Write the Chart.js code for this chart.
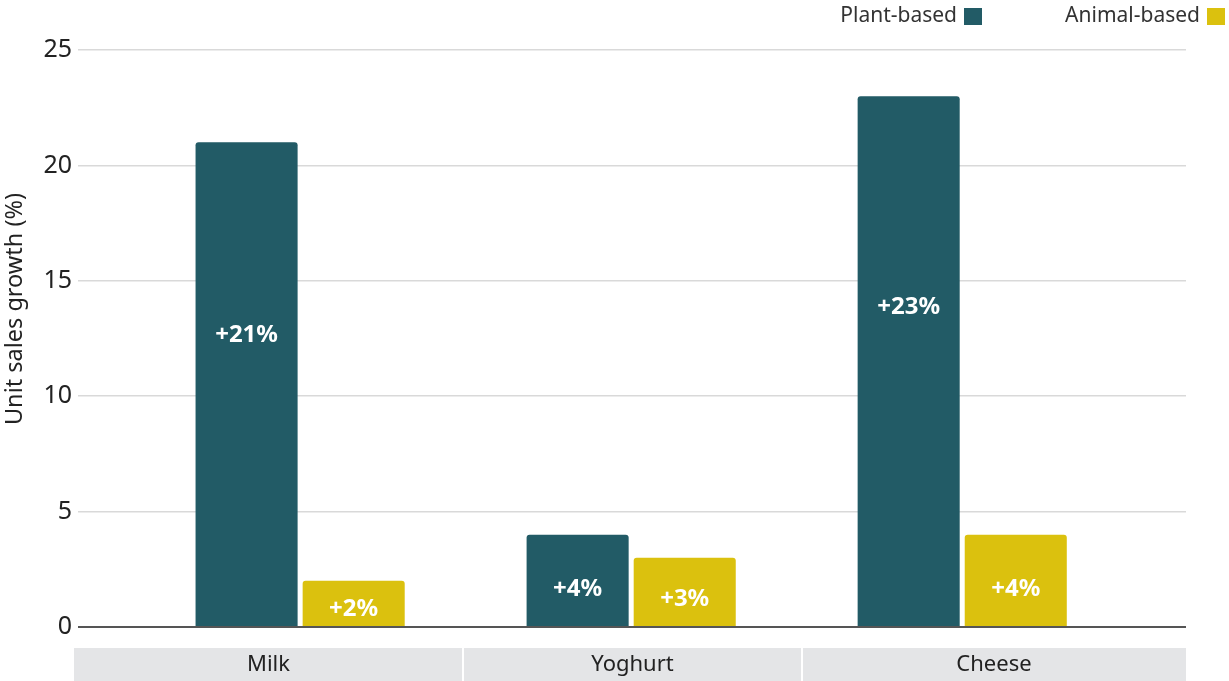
<!DOCTYPE html>
<html>
<head>
<meta charset="utf-8">
<script src="https://cdn.jsdelivr.net/npm/chart.js@4/dist/chart.umd.min.js"></script>
<style>
  html, body { margin: 0; padding: 0; background: #ffffff; }
  #wrap { position: relative; width: 1229px; height: 681px; }
</style>
</head>
<body>
<div id="wrap"><canvas id="c" width="1229" height="681"></canvas></div>
<script>
const categories = ['Milk', 'Yoghurt', 'Cheese'];
const plantBased = [21, 4, 23];
const animalBased = [2, 3, 4];
const plantLabels = ['+21%', '+4%', '+23%'];
const animalLabels = ['+2%', '+3%', '+4%'];
const yTicks = [0, 5, 10, 15, 20, 25];
const seriesNames = ['Plant-based', 'Animal-based'];
const yTitle = 'Unit sales growth (%)';

const PLANT = '#225b66';
const ANIMAL = '#dbc10e';
const FONT = "'Noto Sans', 'DejaVu Sans', sans-serif";

const valueLabels = [plantLabels, animalLabels];

const barLabelPlugin = {
  id: 'barLabels',
  afterDatasetsDraw(chart) {
    const ctx = chart.ctx;
    ctx.save();
    ctx.fillStyle = '#ffffff';
    ctx.font = 'bold 24px ' + FONT;
    ctx.textAlign = 'center';
    ctx.textBaseline = 'middle';
    chart.data.datasets.forEach((ds, di) => {
      const meta = chart.getDatasetMeta(di);
      meta.data.forEach((bar, i) => {
        const h = bar.base - bar.y;
        const frac = h > 200 ? 0.607 : 0.44;
        ctx.fillText(valueLabels[di][i], bar.x, bar.base - h * frac + 3);
      });
    });
    ctx.restore();
  }
};

const bandPlugin = {
  id: 'band',
  afterDraw(chart) {
    const ctx = chart.ctx;
    const bounds = [74, 463, 802, 1186];
    const top = 648, bottom = 681;
    ctx.save();
    ctx.fillStyle = '#e4e5e7';
    ctx.fillRect(bounds[0], top, bounds[3] - bounds[0], bottom - top);
    ctx.strokeStyle = '#ffffff';
    ctx.lineWidth = 2;
    [bounds[1], bounds[2]].forEach(x => {
      ctx.beginPath();
      ctx.moveTo(x, top);
      ctx.lineTo(x, bottom);
      ctx.stroke();
    });
    ctx.fillStyle = '#222222';
    ctx.font = '22px ' + FONT;
    ctx.textAlign = 'center';
    ctx.textBaseline = 'middle';
    categories.forEach((c, i) => {
      ctx.fillText(c, (bounds[i] + bounds[i + 1]) / 2, 665);
    });
    // y-axis title
    ctx.save();
    ctx.font = '23.5px ' + FONT;
    ctx.translate(15, 309);
    ctx.rotate(-Math.PI / 2);
    ctx.fillText(yTitle, 0, 0);
    ctx.restore();
    // legend (text, then box)
    ctx.font = '21px ' + FONT;
    ctx.textAlign = 'right';
    const items = [
      { text: seriesNames[0], color: PLANT, boxX: 964 },
      { text: seriesNames[1], color: ANIMAL, boxX: 1207 }
    ];
    items.forEach(it => {
      ctx.fillStyle = '#333333';
      ctx.fillText(it.text, it.boxX - 7, 16);
      ctx.fillStyle = it.color;
      ctx.fillRect(it.boxX, 8, 18, 17);
    });
    ctx.restore();
  }
};

new Chart(document.getElementById('c'), {
  type: 'bar',
  data: {
    datasets: [
      {
        label: seriesNames[0],
        data: categories.map((c, i) => ({ x: i, y: plantBased[i] })),
        backgroundColor: PLANT,
        borderRadius: 3,
        borderSkipped: 'start'
      },
      {
        label: seriesNames[1],
        data: categories.map((c, i) => ({ x: i, y: animalBased[i] })),
        backgroundColor: ANIMAL,
        borderRadius: 3,
        borderSkipped: 'start'
      }
    ]
  },
  options: {
    responsive: false,
    animation: false,
    devicePixelRatio: 1,
    categoryPercentage: 0.647,
    barPercentage: 0.953,
    layout: { padding: { top: 50, bottom: 54, right: 43, left: 0 } },
    plugins: {
      legend: { display: false },
      tooltip: { enabled: false }
    },
    scales: {
      x: {
        type: 'linear',
        min: -0.671,
        max: 2.676,
        offset: false,
        display: false,
        afterBuildTicks(scale) { scale.ticks = categories.map((c, i) => ({ value: i })); }
      },
      y: {
        min: 0,
        max: 25,
        afterFit(scale) { scale.width = 78; },
        afterBuildTicks(scale) { scale.ticks = yTicks.map(v => ({ value: v })); },
        border: { display: false },
        grid: {
          drawTicks: false,
          color: c => c.tick && c.tick.value === 0 ? '#555555' : '#d9d9d9',
          lineWidth: c => c.tick && c.tick.value === 0 ? 2 : 1.5
        },
        ticks: {
          padding: 6,
          color: '#222222',
          font: { family: FONT, size: 25 }
        }
      }
    }
  },
  plugins: [barLabelPlugin, bandPlugin]
});
</script>
</body>
</html>
